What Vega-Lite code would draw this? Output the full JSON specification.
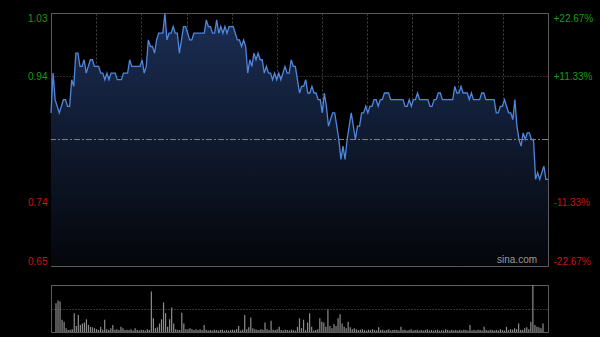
{
 "$schema": "https://vega.github.io/schema/vega-lite/v6.json",
 "background": "#000000",
 "padding": {"left": 27, "top": 10, "right": 7, "bottom": 5},
 "autosize": {"type": "pad"},
 "bounds": "flush",
 "spacing": 19,
 "config": {
  "view": {"stroke": "#5c5c5c", "strokeWidth": 1},
  "font": "Liberation Sans",
  "axis": {"labelFont": "Liberation Sans", "labelFontSize": 10, "ticks": false, "domain": false, "title": null, "gridColor": "#454545", "gridDash": [2, 2], "gridWidth": 1}
 },
 "datasets": {
  "px": [
{"i":0,"p":0.88},{"i":1,"p":0.94},{"i":2,"p":0.90},{"i":4,"p":0.88},{"i":6,"p":0.90},{"i":7,"p":0.90},{"i":8,"p":0.89},{"i":9,"p":0.89},{"i":10,"p":0.93},{"i":11,"p":0.92},{"i":12,"p":0.97},{"i":13,"p":0.97},{"i":14,"p":0.95},{"i":15,"p":0.95},{"i":16,"p":0.96},{"i":17,"p":0.94},{"i":18,"p":0.95},{"i":19,"p":0.96},{"i":20,"p":0.96},{"i":21,"p":0.95},{"i":23,"p":0.95},{"i":24,"p":0.94},{"i":25,"p":0.94},{"i":26,"p":0.93},{"i":27,"p":0.94},{"i":28,"p":0.93},{"i":29,"p":0.94},{"i":31,"p":0.94},{"i":32,"p":0.93},{"i":34,"p":0.93},{"i":35,"p":0.94},{"i":37,"p":0.94},{"i":38,"p":0.96},{"i":39,"p":0.95},{"i":43,"p":0.95},{"i":44,"p":0.96},{"i":45,"p":0.94},{"i":46,"p":0.95},{"i":47,"p":0.99},{"i":48,"p":0.98},{"i":49,"p":0.98},{"i":50,"p":0.97},{"i":51,"p":0.99},{"i":52,"p":1.00},{"i":54,"p":1.00},{"i":55,"p":1.03},{"i":56,"p":0.99},{"i":57,"p":1.00},{"i":58,"p":1.00},{"i":59,"p":1.01},{"i":60,"p":1.00},{"i":61,"p":1.00},{"i":62,"p":0.97},{"i":63,"p":0.99},{"i":64,"p":1.01},{"i":65,"p":1.01},{"i":66,"p":1.00},{"i":67,"p":0.99},{"i":68,"p":0.99},{"i":69,"p":1.00},{"i":74,"p":1.00},{"i":75,"p":1.02},{"i":76,"p":1.01},{"i":77,"p":1.01},{"i":78,"p":1.00},{"i":79,"p":1.00},{"i":80,"p":1.02},{"i":81,"p":1.00},{"i":82,"p":1.01},{"i":83,"p":1.00},{"i":84,"p":1.01},{"i":85,"p":1.00},{"i":86,"p":1.01},{"i":88,"p":1.01},{"i":89,"p":1.00},{"i":90,"p":0.99},{"i":91,"p":0.99},{"i":92,"p":0.98},{"i":93,"p":0.99},{"i":94,"p":0.98},{"i":95,"p":0.94},{"i":96,"p":0.96},{"i":97,"p":0.95},{"i":98,"p":0.97},{"i":99,"p":0.96},{"i":100,"p":0.97},{"i":101,"p":0.96},{"i":102,"p":0.96},{"i":103,"p":0.94},{"i":104,"p":0.95},{"i":105,"p":0.94},{"i":106,"p":0.94},{"i":107,"p":0.93},{"i":108,"p":0.94},{"i":109,"p":0.93},{"i":110,"p":0.94},{"i":111,"p":0.93},{"i":112,"p":0.94},{"i":113,"p":0.95},{"i":114,"p":0.94},{"i":115,"p":0.94},{"i":116,"p":0.96},{"i":117,"p":0.95},{"i":118,"p":0.95},{"i":119,"p":0.93},{"i":120,"p":0.91},{"i":121,"p":0.92},{"i":122,"p":0.92},{"i":123,"p":0.93},{"i":124,"p":0.91},{"i":125,"p":0.91},{"i":126,"p":0.92},{"i":127,"p":0.91},{"i":128,"p":0.91},{"i":129,"p":0.90},{"i":130,"p":0.90},{"i":131,"p":0.88},{"i":132,"p":0.91},{"i":133,"p":0.89},{"i":134,"p":0.86},{"i":135,"p":0.87},{"i":136,"p":0.88},{"i":137,"p":0.88},{"i":138,"p":0.86},{"i":139,"p":0.84},{"i":140,"p":0.81},{"i":141,"p":0.83},{"i":142,"p":0.81},{"i":143,"p":0.84},{"i":144,"p":0.86},{"i":145,"p":0.88},{"i":146,"p":0.86},{"i":147,"p":0.84},{"i":148,"p":0.86},{"i":149,"p":0.86},{"i":150,"p":0.88},{"i":151,"p":0.88},{"i":152,"p":0.89},{"i":153,"p":0.88},{"i":154,"p":0.89},{"i":155,"p":0.89},{"i":156,"p":0.90},{"i":157,"p":0.90},{"i":158,"p":0.89},{"i":159,"p":0.90},{"i":160,"p":0.90},{"i":161,"p":0.91},{"i":163,"p":0.91},{"i":164,"p":0.90},{"i":170,"p":0.90},{"i":171,"p":0.89},{"i":172,"p":0.89},{"i":173,"p":0.90},{"i":174,"p":0.89},{"i":175,"p":0.90},{"i":176,"p":0.90},{"i":177,"p":0.91},{"i":178,"p":0.90},{"i":182,"p":0.90},{"i":183,"p":0.89},{"i":184,"p":0.89},{"i":185,"p":0.90},{"i":186,"p":0.90},{"i":187,"p":0.91},{"i":188,"p":0.91},{"i":189,"p":0.90},{"i":194,"p":0.90},{"i":195,"p":0.92},{"i":196,"p":0.91},{"i":197,"p":0.91},{"i":198,"p":0.92},{"i":199,"p":0.91},{"i":201,"p":0.91},{"i":202,"p":0.90},{"i":203,"p":0.91},{"i":204,"p":0.90},{"i":207,"p":0.90},{"i":208,"p":0.91},{"i":209,"p":0.91},{"i":210,"p":0.90},{"i":214,"p":0.90},{"i":215,"p":0.88},{"i":216,"p":0.88},{"i":217,"p":0.89},{"i":218,"p":0.89},{"i":219,"p":0.90},{"i":220,"p":0.89},{"i":221,"p":0.88},{"i":222,"p":0.88},{"i":223,"p":0.87},{"i":224,"p":0.90},{"i":225,"p":0.86},{"i":226,"p":0.84},{"i":227,"p":0.83},{"i":228,"p":0.85},{"i":229,"p":0.84},{"i":230,"p":0.85},{"i":231,"p":0.85},{"i":232,"p":0.84},{"i":233,"p":0.84},{"i":234,"p":0.78},{"i":235,"p":0.79},{"i":236,"p":0.78},{"i":237,"p":0.79},{"i":238,"p":0.80},{"i":239,"p":0.78},{"i":240,"p":0.78}
  ],
  "vol": [
{"i":0,"v":61},{"i":1,"v":67},{"i":2,"v":65},{"i":3,"v":26},{"i":4,"v":22},{"i":5,"v":8},{"i":6,"v":4},{"i":7,"v":5},{"i":8,"v":6},{"i":9,"v":40},{"i":10,"v":13},{"i":11,"v":36},{"i":12,"v":15},{"i":13,"v":18},{"i":14,"v":20},{"i":15,"v":27},{"i":16,"v":15},{"i":17,"v":11},{"i":18,"v":10},{"i":19,"v":8},{"i":20,"v":6},{"i":21,"v":4},{"i":22,"v":11},{"i":23,"v":5},{"i":24,"v":26},{"i":25,"v":6},{"i":26,"v":4},{"i":27,"v":8},{"i":28,"v":15},{"i":29,"v":5},{"i":30,"v":6},{"i":31,"v":4},{"i":32,"v":11},{"i":33,"v":8},{"i":34,"v":4},{"i":35,"v":5},{"i":36,"v":4},{"i":37,"v":6},{"i":38,"v":3},{"i":39,"v":8},{"i":40,"v":4},{"i":41,"v":3},{"i":42,"v":5},{"i":43,"v":4},{"i":44,"v":3},{"i":45,"v":6},{"i":46,"v":4},{"i":47,"v":86},{"i":48,"v":29},{"i":49,"v":8},{"i":50,"v":10},{"i":51,"v":18},{"i":52,"v":27},{"i":53,"v":63},{"i":54,"v":40},{"i":55,"v":11},{"i":56,"v":27},{"i":57,"v":52},{"i":58,"v":18},{"i":59,"v":6},{"i":60,"v":4},{"i":61,"v":4},{"i":62,"v":41},{"i":63,"v":18},{"i":64,"v":6},{"i":65,"v":6},{"i":66,"v":8},{"i":67,"v":6},{"i":68,"v":4},{"i":69,"v":6},{"i":70,"v":4},{"i":71,"v":6},{"i":72,"v":4},{"i":73,"v":15},{"i":74,"v":5},{"i":75,"v":3},{"i":76,"v":4},{"i":77,"v":3},{"i":78,"v":5},{"i":79,"v":4},{"i":80,"v":3},{"i":81,"v":4},{"i":82,"v":5},{"i":83,"v":3},{"i":84,"v":4},{"i":85,"v":3},{"i":86,"v":4},{"i":87,"v":5},{"i":88,"v":4},{"i":89,"v":6},{"i":90,"v":13},{"i":91,"v":3},{"i":92,"v":5},{"i":93,"v":36},{"i":94,"v":6},{"i":95,"v":10},{"i":96,"v":31},{"i":97,"v":8},{"i":98,"v":6},{"i":99,"v":5},{"i":100,"v":4},{"i":101,"v":6},{"i":102,"v":5},{"i":103,"v":20},{"i":104,"v":6},{"i":105,"v":4},{"i":106,"v":24},{"i":107,"v":5},{"i":108,"v":4},{"i":109,"v":6},{"i":110,"v":11},{"i":111,"v":4},{"i":112,"v":3},{"i":113,"v":5},{"i":114,"v":4},{"i":115,"v":3},{"i":116,"v":5},{"i":117,"v":4},{"i":118,"v":3},{"i":119,"v":11},{"i":120,"v":29},{"i":121,"v":8},{"i":122,"v":26},{"i":123,"v":4},{"i":124,"v":20},{"i":125,"v":40},{"i":126,"v":11},{"i":127,"v":3},{"i":128,"v":4},{"i":129,"v":6},{"i":130,"v":29},{"i":131,"v":22},{"i":132,"v":20},{"i":133,"v":11},{"i":134,"v":48},{"i":135,"v":13},{"i":136,"v":8},{"i":137,"v":17},{"i":138,"v":13},{"i":139,"v":29},{"i":140,"v":38},{"i":141,"v":18},{"i":142,"v":11},{"i":143,"v":8},{"i":144,"v":22},{"i":145,"v":10},{"i":146,"v":6},{"i":147,"v":8},{"i":148,"v":6},{"i":149,"v":4},{"i":150,"v":5},{"i":151,"v":6},{"i":152,"v":4},{"i":153,"v":3},{"i":154,"v":5},{"i":155,"v":4},{"i":156,"v":6},{"i":157,"v":4},{"i":158,"v":3},{"i":159,"v":10},{"i":160,"v":4},{"i":161,"v":5},{"i":162,"v":3},{"i":163,"v":4},{"i":164,"v":6},{"i":165,"v":3},{"i":166,"v":4},{"i":167,"v":5},{"i":168,"v":4},{"i":169,"v":3},{"i":170,"v":11},{"i":171,"v":4},{"i":172,"v":5},{"i":173,"v":3},{"i":174,"v":4},{"i":175,"v":6},{"i":176,"v":3},{"i":177,"v":4},{"i":178,"v":5},{"i":179,"v":3},{"i":180,"v":4},{"i":181,"v":3},{"i":182,"v":4},{"i":183,"v":6},{"i":184,"v":3},{"i":185,"v":4},{"i":186,"v":3},{"i":187,"v":4},{"i":188,"v":5},{"i":189,"v":3},{"i":190,"v":4},{"i":191,"v":3},{"i":192,"v":6},{"i":193,"v":4},{"i":194,"v":3},{"i":195,"v":5},{"i":196,"v":3},{"i":197,"v":4},{"i":198,"v":3},{"i":199,"v":4},{"i":200,"v":3},{"i":201,"v":5},{"i":202,"v":4},{"i":203,"v":3},{"i":204,"v":15},{"i":205,"v":3},{"i":206,"v":4},{"i":207,"v":3},{"i":208,"v":5},{"i":209,"v":4},{"i":210,"v":3},{"i":211,"v":11},{"i":212,"v":4},{"i":213,"v":3},{"i":214,"v":5},{"i":215,"v":4},{"i":216,"v":3},{"i":217,"v":4},{"i":218,"v":3},{"i":219,"v":6},{"i":220,"v":4},{"i":221,"v":3},{"i":222,"v":11},{"i":223,"v":4},{"i":224,"v":6},{"i":225,"v":5},{"i":226,"v":8},{"i":227,"v":6},{"i":228,"v":18},{"i":229,"v":5},{"i":230,"v":4},{"i":231,"v":8},{"i":232,"v":10},{"i":233,"v":6},{"i":234,"v":22},{"i":235,"v":100},{"i":236,"v":15},{"i":237,"v":11},{"i":238,"v":10},{"i":239,"v":8},{"i":240,"v":18}
  ]
 },
 "vconcat": [
  {
   "width": 497,
   "height": 253,
   "layer": [
    {
     "data": {"name": "px"},
     "encoding": {
      "x": {"field": "i", "type": "quantitative", "scale": {"domain": [0, 240], "nice": false, "zero": false},
            "axis": {"grid": true, "labels": false, "values": [21.82, 43.64, 65.45, 87.27, 109.09, 130.91, 152.73, 174.55, 196.36, 218.18], "minExtent": 0, "maxExtent": 0}},
      "y": {"field": "p", "type": "quantitative", "scale": {"domain": [0.6496, 1.0304], "nice": false, "zero": false},
            "axis": {"orient": "left", "values": [0.6496, 0.7448, 0.9352, 1.0304], "labelExpr": "format(datum.value, '.2f')",
                     "labelColor": {"condition": {"test": "datum.value > 0.84", "value": "#139e13"}, "value": "#cc1212"},
                     "labelFlush": true, "labelFlushOffset": 0, "labelPadding": 4, "grid": true, "gridColor": "#555555", "gridDash": [1, 2]}}
     },
     "layer": [
      {"mark": {"type": "area", "color": {"x1": 0, "y1": 0, "x2": 0, "y2": 1, "gradient": "linear", "stops": [{"offset": 0, "color": "#1b2e55"}, {"offset": 1, "color": "#04060a"}]}},
       "encoding": {"y2": {"datum": 0.6496}}},
      {"mark": {"type": "line", "color": "#4f86de", "strokeWidth": 1.3}}
     ]
    },
    {
     "data": {"values": [{"pct": 0, "label": "sina.com"}]},
     "encoding": {
      "y": {"field": "pct", "type": "quantitative", "scale": {"domain": [-22.67, 22.67], "nice": false, "zero": false},
            "axis": {"orient": "right", "values": [-22.67, -11.33, 11.33, 22.67],
                     "labelExpr": "(datum.value > 0 ? '+' : '-') + format(abs(datum.value), '.2f') + '%'",
                     "labelColor": {"condition": {"test": "datum.value > 0", "value": "#139e13"}, "value": "#cc1212"},
                     "labelFlush": true, "labelFlushOffset": 0, "labelPadding": 5, "grid": false}}
     },
     "layer": [
      {"mark": {"type": "rule", "color": "#7a7f88", "strokeDash": [6, 2, 2, 2]}},
      {"mark": {"type": "text", "align": "right", "baseline": "bottom", "fontSize": 10, "color": "#9a9a9a", "dy": -1},
       "encoding": {"x": {"datum": 234.7}, "y": {"datum": -22.67}, "text": {"field": "label"}}}
     ]
    }
   ],
   "resolve": {"scale": {"y": "independent"}, "axis": {"y": "independent"}}
  },
  {
   "width": 497,
   "height": 47,
   "data": {"name": "vol"},
   "mark": {"type": "bar", "color": "#8c8c8c", "size": 1.2},
   "encoding": {
    "x": {"field": "i", "type": "quantitative", "scale": {"domain": [0, 240], "nice": false, "zero": false}, "axis": null},
    "y": {"field": "v", "type": "quantitative", "scale": {"domain": [0, 100], "nice": false}, "axis": {"values": [50, 100], "labels": false, "grid": true, "gridColor": "#666666", "gridDash": [1, 2]}}
   }
  }
 ]
}
